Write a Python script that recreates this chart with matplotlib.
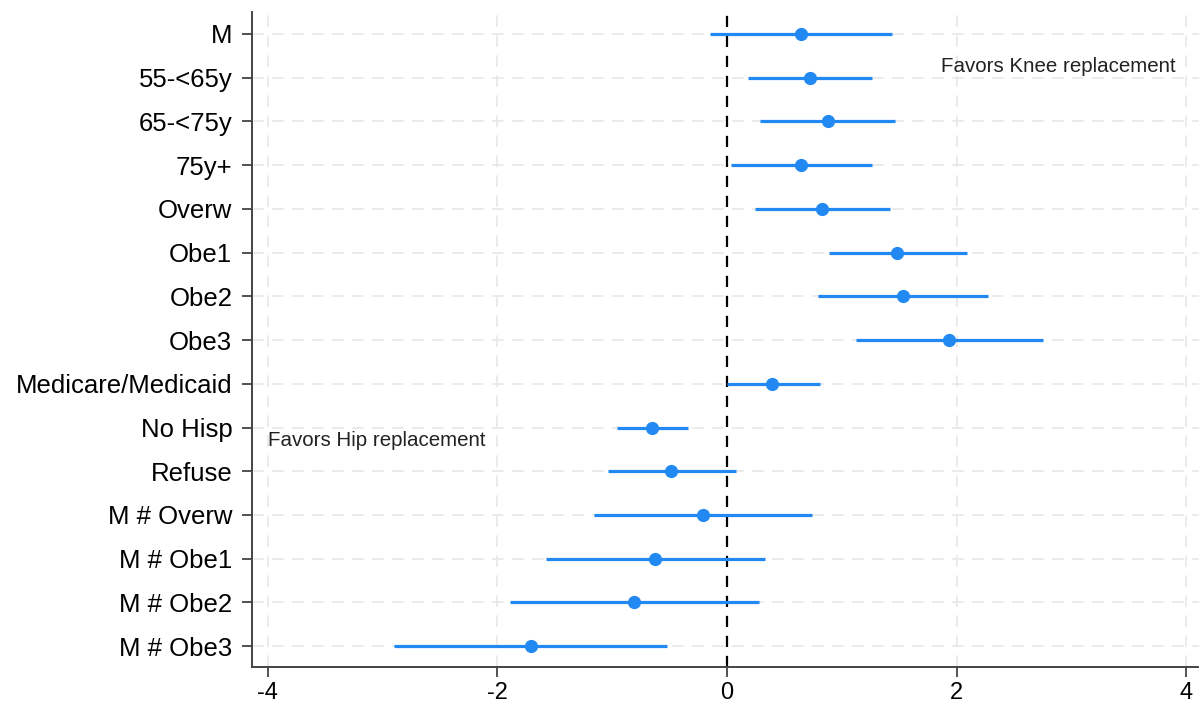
import numpy as np
import matplotlib.pyplot as plt

plt.rcParams["font.family"] = ["Liberation Sans", "DejaVu Sans"]

# coefficient estimates with confidence intervals
labels = ["M", "55-<65y", "65-<75y", "75y+", "Overw", "Obe1", "Obe2", "Obe3",
          "Medicare/Medicaid", "No Hisp", "Refuse", "M # Overw", "M # Obe1",
          "M # Obe2", "M # Obe3"]
coef = [0.64, 0.72, 0.88, 0.64, 0.83, 1.48, 1.53, 1.93, 0.39, -0.65, -0.49,
        -0.21, -0.63, -0.81, -1.71]
ci_low = [-0.15, 0.18, 0.29, 0.03, 0.24, 0.89, 0.79, 1.12, 0.0, -0.96, -1.04,
          -1.16, -1.58, -1.89, -2.90]
ci_high = [1.44, 1.26, 1.46, 1.26, 1.42, 2.09, 2.27, 2.75, 0.81, -0.34, 0.08,
           0.74, 0.33, 0.28, -0.52]
xticks = [-4, -2, 0, 2, 4]

color = "#2389f2"

fig = plt.figure(figsize=(11.99, 7.09), dpi=100)
ax = fig.add_axes([0.210, 0.059, 0.79, 0.924])

ypos = np.arange(len(labels))

# gridlines
for x in xticks:
    ax.axvline(x, color="#e8e8e8", linestyle=(0, (7, 5)), linewidth=1.2, zorder=0)
for y in ypos:
    ax.axhline(y, color="#e8e8e8", linestyle=(0, (7, 5)), linewidth=1.2, zorder=0)

# zero reference line
ax.axvline(0, color="black", linestyle=(0, (5, 4)), linewidth=1.6, zorder=1)

# confidence intervals and point estimates
ax.hlines(ypos, ci_low, ci_high, color=color, linewidth=2.3, zorder=2)
ax.plot(coef, ypos, "o", color=color, markersize=8.5, zorder=3)

ax.text(1.86, 0.75, "Favors Knee replacement", fontsize=14.8, color="#222222",
        va="center", ha="left")
ax.text(-4.0, 9.3, "Favors Hip replacement", fontsize=14.8, color="#222222",
        va="center", ha="left")

ax.set_xlim(-4.14, 4.11)
ax.set_ylim(14.48, -0.5)
ax.set_xticks(xticks)
ax.set_xticklabels([str(x) for x in xticks])
ax.set_yticks(ypos)
ax.set_yticklabels(labels)
ax.tick_params(axis="both", labelsize=18.5, length=7, width=1.3, color="#444444")
ax.tick_params(axis="y", pad=7)
ax.tick_params(axis="x", pad=4, labelsize=17)

for side in ["top", "right"]:
    ax.spines[side].set_visible(False)
for side in ["left", "bottom"]:
    ax.spines[side].set_color("#444444")
    ax.spines[side].set_linewidth(1.4)

fig.savefig("out.png", dpi=100)
